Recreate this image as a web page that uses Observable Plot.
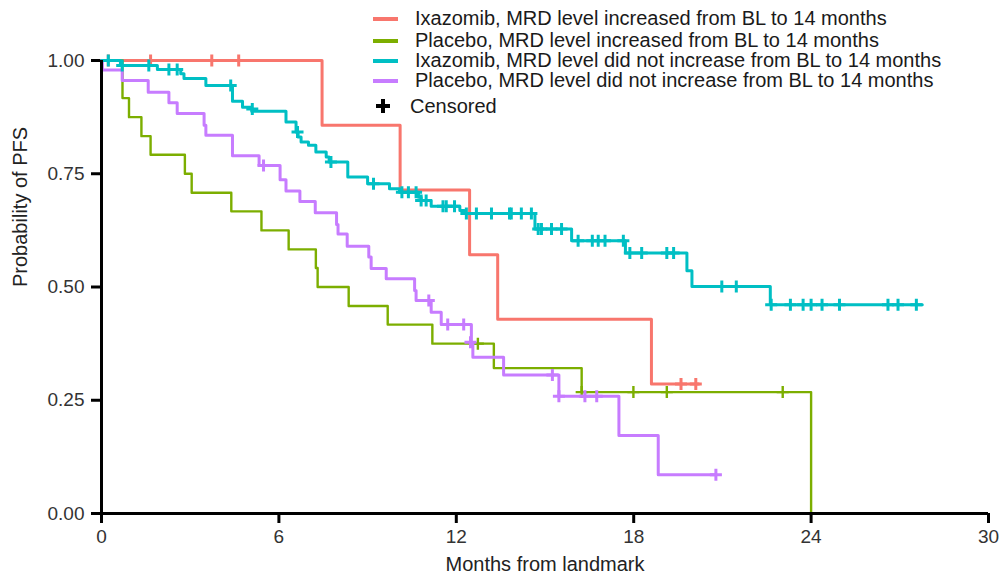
<!DOCTYPE html>
<html>
<head>
<meta charset="utf-8">
<script src="https://cdn.jsdelivr.net/npm/d3@7"></script>
<script src="https://cdn.jsdelivr.net/npm/@observablehq/plot@0.6"></script>
<style>
  body { margin: 0; background: #fff; }
  #wrap { position: relative; width: 1005px; height: 573px; font-family: "Liberation Sans", Arial, sans-serif; }
  #legend { position: absolute; left: 0; top: 0; width: 1005px; height: 120px; pointer-events: none; }
  .row { position: absolute; left: 373px; height: 21px; font-size: 20px; color: #1a1a1a; white-space: nowrap; }
  .sw { position: absolute; left: 0; top: 9px; width: 25px; height: 4px; }
  .lab { position: absolute; left: 42px; top: 0; line-height: 21px; }
  .pl { position: absolute; background: #000; }
</style>
</head>
<body>
<div id="wrap"><div id="legend"></div></div>
<script>
// ---- data (months from landmark, probability of PFS) ----
const seriesNames = [
  "Ixazomib, MRD level increased from BL to 14 months",
  "Placebo, MRD level increased from BL to 14 months",
  "Ixazomib, MRD level did not increase from BL to 14 months",
  "Placebo, MRD level did not increase from BL to 14 months"
];
const seriesColors = ["#F8766D", "#7CAE00", "#00BFC4", "#C77CFF"];
const censorLabel = "Censored";

const redT = [0, 7.46, 10.1, 12.45, 13.4, 18.6, 20.2];
const redS = [1, 0.857, 0.714, 0.571, 0.429, 0.286, 0.286];
const redCT = [0.23, 1.66, 3.73, 4.64, 19.6, 20.1];
const redCS = [1, 1, 1, 1, 0.286, 0.286];

const greenT = [0, 0.71, 0.93, 1.35, 1.66, 2.82, 3.05, 4.39, 5.41, 6.33, 7.25, 7.31, 8.36, 9.68, 11.19, 13.27, 16.24, 24.0];
const greenS = [1, 0.917, 0.875, 0.833, 0.792, 0.75, 0.708, 0.667, 0.625, 0.583, 0.542, 0.5, 0.458, 0.417, 0.375, 0.321, 0.268, 0];
const greenCT = [12.73, 16.24, 17.99, 19.12, 23.04];
const greenCS = [0.375, 0.268, 0.268, 0.268, 0.268];

const cyanT = [0, 0.64, 1.89, 2.68, 2.79, 3.53, 4.43, 4.77, 5.08, 6.24, 6.58, 6.65, 6.75, 7.0, 7.25, 7.6, 7.7, 8.33, 9.0, 9.74, 10.08, 10.72, 10.81, 11.15, 12.12, 12.28, 14.66, 15.9, 17.72, 19.8, 19.97, 22.62, 27.76];
const cyanS = [1, 0.989, 0.98, 0.971, 0.96, 0.945, 0.91, 0.897, 0.888, 0.864, 0.842, 0.831, 0.82, 0.813, 0.798, 0.787, 0.776, 0.743, 0.728, 0.717, 0.709, 0.698, 0.691, 0.678, 0.669, 0.662, 0.628, 0.602, 0.575, 0.536, 0.501, 0.461, 0.461];
const cyanCT = [0.23, 0.7, 1.6, 2.28, 2.56, 4.37, 5.1, 6.63, 7.76, 9.2, 10.16, 10.38, 10.64, 10.81, 10.98, 11.55, 11.66, 11.94, 12.34, 12.68, 13.19, 13.8, 13.86, 14.2, 14.54, 14.77, 14.88, 15.22, 15.56, 16.12, 16.6, 16.8, 17.03, 17.65, 17.87, 18.27, 19.12, 19.35, 20.98, 21.47, 22.65, 23.3, 23.73, 24.0, 24.37, 24.96, 26.6, 26.94, 27.56];
const cyanCS = [1, 0.989, 0.989, 0.98, 0.98, 0.945, 0.893, 0.842, 0.776, 0.728, 0.709, 0.709, 0.709, 0.691, 0.691, 0.678, 0.678, 0.678, 0.662, 0.662, 0.662, 0.662, 0.662, 0.662, 0.662, 0.628, 0.628, 0.628, 0.628, 0.602, 0.602, 0.602, 0.602, 0.602, 0.575, 0.575, 0.575, 0.575, 0.501, 0.501, 0.461, 0.461, 0.461, 0.461, 0.461, 0.461, 0.461, 0.461, 0.461];

const purpleT = [0, 0.03, 0.70, 1.58, 2.28, 2.56, 3.47, 3.53, 4.43, 5.33, 6.04, 6.24, 6.71, 7.23, 7.95, 8.0, 8.31, 9.04, 9.12, 9.63, 10.59, 10.64, 11.15, 11.49, 12.51, 12.56, 13.6, 15.47, 17.5, 18.83, 20.78];
const purpleS = [1, 0.979, 0.956, 0.930, 0.907, 0.883, 0.857, 0.835, 0.790, 0.768, 0.737, 0.712, 0.689, 0.664, 0.638, 0.617, 0.590, 0.566, 0.541, 0.518, 0.492, 0.470, 0.444, 0.417, 0.378, 0.345, 0.306, 0.259, 0.172, 0.0855, 0.0855];
const purpleCT = [5.48, 11.07, 11.71, 12.25, 12.48, 15.25, 15.47, 16.35, 16.75, 20.78];
const purpleCS = [0.768, 0.470, 0.417, 0.417, 0.378, 0.306, 0.259, 0.259, 0.259, 0.0855];

const xTicks = [0, 6, 12, 18, 24, 30];
const yTicks = [0, 0.25, 0.5, 0.75, 1];

// ---- build tables ----
const curves = [[redT, redS], [greenT, greenS], [cyanT, cyanS], [purpleT, purpleS]];
const censors = [[redCT, redCS], [greenCT, greenCS], [cyanCT, cyanCS], [purpleCT, purpleCS]];
const toRows = ([T, S], i) => T.map((t, k) => ({t, s: S[k], g: seriesNames[i]}));
const drawOrder = [0, 1, 3, 2];
const widths = [3, 2.4, 3, 3];

const plusSym = {
  draw(ctx) {
    ctx.moveTo(0, -6); ctx.lineTo(0, 6);
    ctx.moveTo(-6, 0); ctx.lineTo(6, 0);
  }
};

const marks = [];
for (const i of drawOrder) {
  marks.push(Plot.line(toRows(curves[i], i), {x: "t", y: "s", curve: "step-after", stroke: seriesColors[i], strokeWidth: widths[i]}));
  marks.push(Plot.dot(toRows(censors[i], i), {x: "t", y: "s", symbol: plusSym, fill: "none", stroke: seriesColors[i], strokeWidth: widths[i]}));
}

const chart = Plot.plot({
  width: 1005, height: 573,
  marginLeft: 101, marginRight: 17, marginTop: 60, marginBottom: 60,
  style: {fontFamily: "'Liberation Sans', Arial, sans-serif", fontSize: "19px", background: "#fff"},
  x: {domain: [0, 30]},
  y: {domain: [0, 1]},
  marks: [
    Plot.axisX({ticks: xTicks, tickSize: 10, tickPadding: 6, strokeWidth: 3, stroke: "black", fill: "#333", fontSize: 19,
      label: null}),
    Plot.axisY({ticks: yTicks, tickFormat: d3.format(".2f"), tickSize: 10, tickPadding: 7, strokeWidth: 3, stroke: "black", fill: "#333", fontSize: 19,
      label: null}),
    Plot.text(["Months from landmark"], {frameAnchor: "bottom", dy: 57, fontSize: 20, fill: "#222", lineAnchor: "bottom"}),
    Plot.text(["Probability of PFS"], {frameAnchor: "left", dx: -81, rotate: -90, fontSize: 20, fill: "#222"}),
    ...marks,
    Plot.ruleY([0], {stroke: "black", strokeWidth: 3}),
    Plot.ruleX([0], {stroke: "black", strokeWidth: 3})
  ]
});
document.getElementById("wrap").prepend(chart);

// ---- legend ----
const legend = document.getElementById("legend");
const rowTops = [8, 29.5, 49.5, 70];
seriesNames.forEach((name, i) => {
  const r = document.createElement("div");
  r.className = "row"; r.style.top = rowTops[i] + "px";
  r.innerHTML = `<div class="sw" style="background:${seriesColors[i]}"></div><div class="lab"></div>`;
  r.querySelector(".lab").textContent = name;
  legend.appendChild(r);
});
const c = document.createElement("div");
c.className = "row"; c.style.top = "95.5px";
c.innerHTML = `<div class="pl" style="left:3px;top:8.5px;width:14px;height:4px"></div><div class="pl" style="left:8px;top:3.5px;width:4px;height:14px"></div><div class="lab" style="left:37px"></div>`;
c.querySelector(".lab").textContent = censorLabel;
legend.appendChild(c);
</script>
</body>
</html>
